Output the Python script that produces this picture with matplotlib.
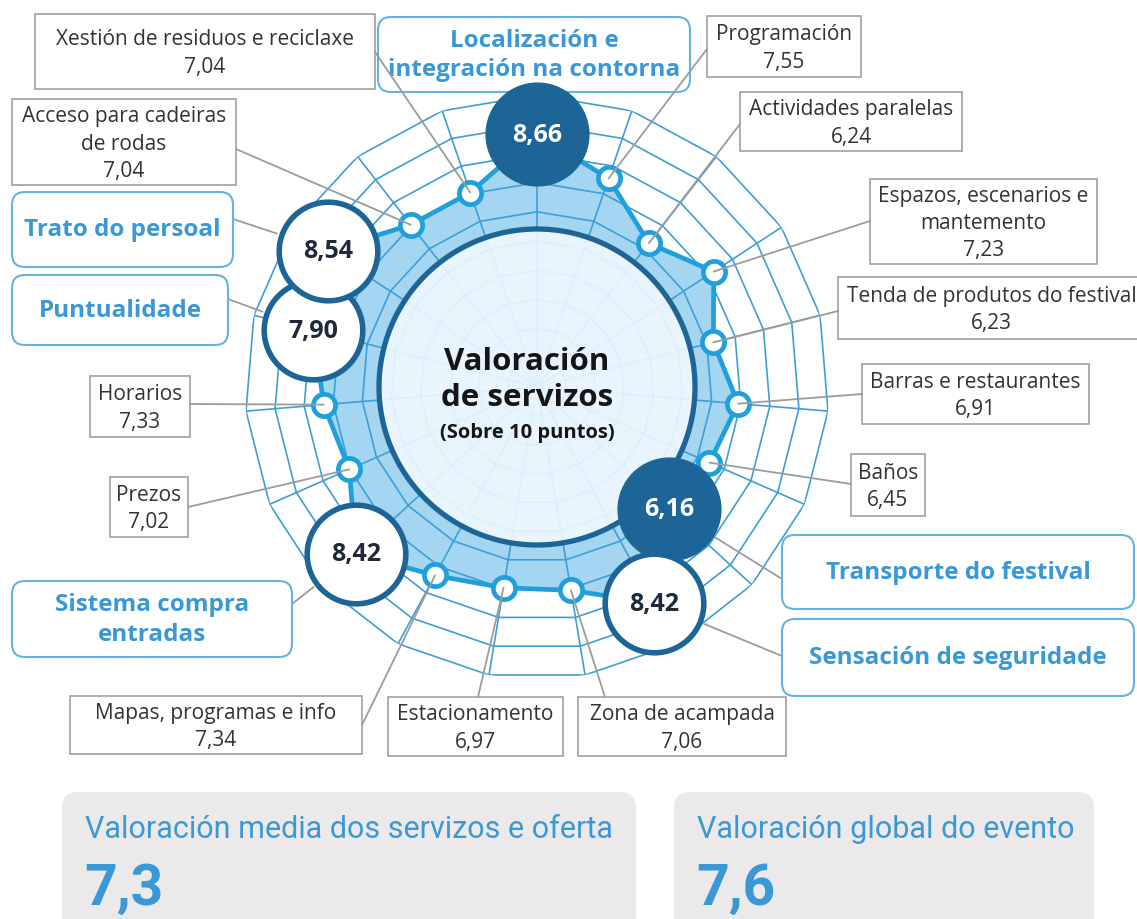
import numpy as np
import matplotlib
matplotlib.use("Agg")
import matplotlib.pyplot as plt
from matplotlib.patches import FancyBboxPatch, Rectangle, Circle, ConnectionPatch

# data: services, clockwise from the top
categories = ["Localización e\nintegración na contorna", "Programación", "Actividades paralelas",
              "Espazos, escenarios e\nmantemento", "Tenda de produtos do festival",
              "Barras e restaurantes", "Baños", "Transporte do festival",
              "Sensación de seguridade", "Zona de acampada", "Estacionamento",
              "Mapas, programas e info", "Sistema compra\nentradas", "Prezos", "Horarios",
              "Puntualidade", "Trato do persoal", "Acceso para cadeiras\nde rodas",
              "Xestión de residuos e reciclaxe"]
scores = [8.66, 7.55, 6.24, 7.23, 6.23, 6.91, 6.45, 6.16, 8.42, 7.06, 6.97, 7.34,
          8.42, 7.02, 7.33, 7.90, 8.54, 7.04, 7.04]
highlight_dark = ["Localización e\nintegración na contorna", "Transporte do festival"]
highlight_light = ["Sensación de seguridade", "Sistema compra\nentradas", "Puntualidade",
                   "Trato do persoal"]
summary_titles = ["Valoración media dos servizos e oferta", "Valoración global do evento"]
summary_values = [7.3, 7.6]

W, H = 1137, 920
CX, CY, R = 537, 388, 292

# label boxes in pixels: x0, y0, x1, y1, leader anchor
box_layout = [
    (378, 18, 690, 93, None),
    (707, 17, 861, 78, (707, 50)),
    (740, 93, 962, 152, (740, 125)),
    (870, 180, 1097, 265, (870, 222)),
    (838, 278, 1145, 340, (838, 312)),
    (862, 365, 1089, 425, (862, 395)),
    (851, 455, 925, 517, (851, 485)),
    (782, 536, 1134, 610, (782, 580)),
    (782, 620, 1134, 697, (782, 657)),
    (578, 698, 786, 757, (605, 698)),
    (388, 698, 563, 757, (478, 698)),
    (70, 697, 362, 755, (362, 726)),
    (12, 582, 292, 658, (292, 605)),
    (110, 478, 188, 538, (188, 508)),
    (90, 377, 190, 438, (190, 405)),
    (12, 276, 228, 346, (228, 300)),
    (12, 193, 233, 268, (233, 220)),
    (12, 100, 236, 186, (236, 150)),
    (35, 15, 375, 90, (375, 53)),
]

grid_c = "#3d9fd6"
line_c = "#1fa0dc"
fill_c = "#a4d6f1"
dark_c = "#1c6596"
blue_txt = "#3a98d6"
gray_txt = "#333333"


def fmt(v):
    return f"{v:.2f}".replace(".", ",")


fig = plt.figure(figsize=(W / 100, H / 100), dpi=100)

canvas = fig.add_axes([0, 0, 1, 1], zorder=0)
canvas.set_xlim(0, W)
canvas.set_ylim(H, 0)
canvas.axis("off")

ax = fig.add_axes([(CX - R) / W, (H - CY - R) / H, 2 * R / W, 2 * R / H],
                  projection="polar", zorder=1)
ax.set_facecolor("none")
ax.set_theta_zero_location("N")
ax.set_theta_direction(-1)
ax.set_ylim(0, 10)
ax.grid(False)
ax.set_xticks([])
ax.set_yticks([])
ax.spines["polar"].set_visible(False)

n = len(categories)
theta = np.linspace(0, 2 * np.pi, n, endpoint=False)
theta_c = np.append(theta, theta[0])
scores_c = np.append(scores, scores[0])

ax.fill(theta_c, scores_c, color=fill_c, zorder=1, lw=0)
for ring in range(1, 11):
    ax.plot(theta_c, [ring] * (n + 1), color=grid_c, lw=1.2, zorder=2)
for t in theta:
    ax.plot([t, t], [0, 10], color=grid_c, lw=1.2, zorder=2)
ax.plot(theta_c, scores_c, color=line_c, lw=3.4, zorder=3)

ax.add_patch(Circle((0.5, 0.5), 158 / (2 * R), transform=ax.transAxes,
                    facecolor="#f1f9fe", alpha=0.9, edgecolor="none", zorder=4))
ax.add_patch(Circle((0.5, 0.5), 158 / (2 * R), transform=ax.transAxes,
                    facecolor="none", edgecolor=dark_c, lw=3.8, zorder=4))

for i, (name, v) in enumerate(zip(categories, scores)):
    t = theta[i]
    if name in highlight_dark:
        ax.plot(t, v, "o", ms=74, mfc=dark_c, mec=dark_c, mew=1, zorder=6, clip_on=False)
        ax.text(t, v, fmt(v), color="white", fontsize=18, fontweight="bold",
                family="Open Sans", ha="center", va="center", zorder=7, clip_on=False)
    elif name in highlight_light:
        ax.plot(t, v, "o", ms=71, mfc="white", mec=dark_c, mew=4, zorder=6, clip_on=False)
        ax.text(t, v, fmt(v), color="#1e2a38", fontsize=18, fontweight="bold",
                family="Open Sans", ha="center", va="center", zorder=7, clip_on=False)
    else:
        ax.plot(t, v, "o", ms=16, mfc="white", mec=line_c, mew=3.4, zorder=5, clip_on=False)

# label boxes and leaders
for i, (name, v) in enumerate(zip(categories, scores)):
    x0, y0, x1, y1, anchor = box_layout[i]
    big = name in highlight_dark or name in highlight_light
    if big:
        canvas.add_patch(FancyBboxPatch((x0, y0), x1 - x0, y1 - y0,
                                        boxstyle="round,pad=0,rounding_size=13",
                                        facecolor="white", edgecolor="#63b4e2", lw=1.5))
        canvas.text((x0 + x1) / 2, (y0 + y1) / 2, name, color=blue_txt, fontsize=17.5,
                    fontweight="bold", family="Open Sans", ha="center", va="center",
                    linespacing=1.3)
    else:
        canvas.add_patch(Rectangle((x0, y0), x1 - x0, y1 - y0, facecolor="white",
                                   edgecolor="#a8a8a8", lw=1.3))
        canvas.text((x0 + x1) / 2, (y0 + y1) / 2 + 1, name + "\n" + fmt(v), color=gray_txt,
                    fontsize=15, family="Open Sans", ha="center", va="center",
                    linespacing=1.4)
    if anchor is not None:
        con = ConnectionPatch(xyA=anchor, coordsA=canvas.transData,
                              xyB=(theta[i], v), coordsB=ax.transData,
                              color="#9c9c9c", lw=1.3, shrinkB=39 if big else 0,
                              zorder=5)
        fig.add_artist(con)

# centre title
fig.text(527 / W, 1 - 380 / H, "Valoración\nde servizos", fontsize=22.5, fontweight="bold",
         family="Open Sans", color="#151515", ha="center", va="center", linespacing=1.3,
         zorder=8)
fig.text(527 / W, 1 - 433 / H, "(Sobre 10 puntos)", fontsize=14.5, fontweight="bold",
         family="Open Sans", color="#151515", ha="center", va="center", zorder=8)

# summary panels
panels = [(62, 636), (674, 1094)]
for (px0, px1), title, val in zip(panels, summary_titles, summary_values):
    canvas.add_patch(FancyBboxPatch((px0, 793), px1 - px0, 160,
                                    boxstyle="round,pad=0,rounding_size=16",
                                    facecolor="#ebe9ea", edgecolor="none"))
    canvas.text(px0 + 23, 830, title, color=blue_txt, fontsize=22, family="Roboto",
                ha="left", va="center")
    canvas.text(px0 + 22, 905, f"{val:.1f}".replace(".", ","), color=blue_txt,
                fontsize=41, fontweight="bold", family="Roboto",
                ha="left", va="baseline")

fig.savefig("out.png", dpi=100, facecolor="white")
